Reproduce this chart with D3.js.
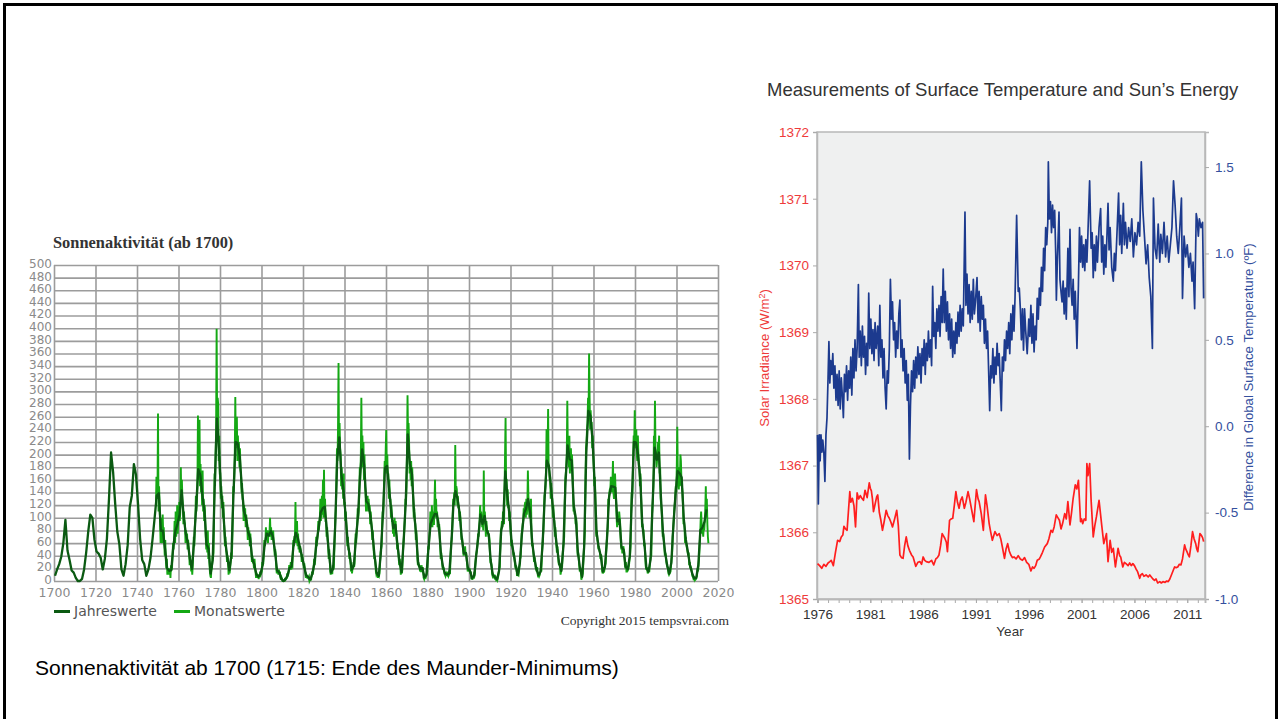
<!DOCTYPE html>
<html>
<head>
<meta charset="utf-8">
<script src="https://cdn.jsdelivr.net/npm/d3@7"></script>
<style>
  body { margin: 0; background: #fff; }
</style>
</head>
<body>
<svg id="chart" width="1280" height="719"></svg>
<script>
//============ data: Sonnenaktivitaet ============//
var jahrStart = 1700;
// yearly sunspot numbers 1700..2014
var jahreswerte = [
  8.3, 18.3, 26.7, 38.3, 60.0, 96.7, 48.3, 33.3, 16.7, 13.3,
  5.0, 0.0, 0.0, 3.3, 18.3, 45.0, 78.3, 105.0, 100.0, 65.0,
  46.7, 43.3, 36.7, 18.3, 35.0, 66.7, 130.0, 203.3, 171.7, 121.7,
  78.3, 58.3, 18.3, 8.3, 26.7, 56.7, 116.7, 135.0, 185.0, 168.3,
  121.7, 66.7, 33.3, 26.7, 8.3, 18.3, 36.7, 66.7, 100.0, 134.8,
  139.0, 79.5, 79.7, 51.2, 20.3, 16.0, 17.0, 54.0, 79.3, 90.0,
  104.8, 143.2, 102.0, 75.2, 60.7, 34.8, 19.0, 63.0, 116.3, 176.8,
  168.0, 136.0, 110.8, 58.0, 51.0, 11.7, 33.0, 154.2, 257.3, 209.8,
  141.3, 113.5, 64.2, 38.0, 17.0, 40.2, 138.2, 220.0, 218.2, 196.8,
  149.8, 111.0, 100.0, 78.2, 68.3, 35.5, 26.7, 10.7, 6.8, 11.3,
  24.2, 56.7, 75.0, 71.8, 79.2, 70.3, 46.8, 16.8, 13.5, 4.2,
  0.0, 2.3, 8.3, 20.3, 23.2, 59.0, 76.3, 68.3, 52.9, 38.5,
  24.2, 9.2, 6.3, 2.2, 11.4, 28.2, 59.9, 83.0, 108.5, 115.2,
  117.4, 80.8, 44.3, 13.4, 19.5, 85.8, 192.7, 227.3, 168.7, 143.0,
  105.5, 63.3, 40.3, 18.1, 25.1, 65.8, 102.7, 166.3, 208.3, 182.5,
  126.3, 122.0, 102.7, 74.1, 39.0, 12.7, 8.2, 43.4, 104.4, 178.3,
  182.2, 146.6, 112.1, 83.5, 89.2, 57.8, 30.7, 13.9, 62.8, 123.6,
  232.0, 185.3, 169.2, 110.1, 74.5, 28.3, 18.9, 20.7, 5.7, 10.0,
  53.7, 90.5, 99.0, 106.1, 105.8, 86.3, 42.4, 21.8, 11.2, 10.4,
  11.8, 59.5, 121.7, 142.0, 130.0, 106.6, 69.4, 43.8, 44.4, 20.2,
  15.7, 4.6, 8.5, 40.8, 70.1, 105.5, 90.1, 102.8, 80.9, 73.2,
  30.9, 9.5, 6.0, 2.4, 16.1, 79.0, 95.0, 173.6, 134.6, 105.7,
  62.7, 43.5, 23.7, 9.7, 27.9, 74.0, 106.5, 114.7, 129.7, 108.2,
  59.4, 35.1, 18.6, 9.2, 14.6, 60.2, 132.8, 190.6, 182.6, 148.0,
  113.0, 79.2, 50.8, 27.1, 16.1, 55.3, 154.3, 214.7, 193.0, 190.7,
  118.9, 98.3, 45.0, 20.1, 6.6, 54.2, 200.7, 269.3, 261.7, 225.1,
  159.0, 76.4, 53.4, 39.9, 15.0, 22.0, 66.8, 132.9, 150.0, 149.4,
  148.0, 94.4, 97.6, 54.1, 49.2, 22.5, 18.4, 39.3, 131.0, 220.1,
  218.9, 198.9, 162.4, 91.0, 60.5, 20.6, 14.8, 33.9, 123.0, 211.1,
  191.8, 203.3, 133.0, 76.1, 44.9, 25.1, 11.6, 28.9, 88.3, 136.3,
  173.9, 170.4, 163.6, 99.3, 65.3, 45.8, 24.7, 12.6, 4.2, 4.8,
  24.9, 80.8, 84.5, 94.0, 113.3
];

var monatStart = 1749, monatStep = 0.25;
var monatswerte = [
  120,165,130,140, 265,110,150,125, 95,60,100,70, 60,105,75,85, 60,40,65,35,
  20,35,10,15, 10,20,15,18, 5,25,18,20, 40,60,50,70, 95,60,110,70,
  80,120,75,95, 100,125,95,110, 180,120,160,130, 115,90,110,95, 90,60,80,70,
  75,50,65,55, 45,25,40,30, 15,25,10,25, 45,70,55,85, 100,135,110,125,
  150,262,160,200, 255,150,185,140, 160,120,175,110, 130,95,120,100, 70,50,65,45,
  80,35,60,30, 15,8,5,20, 20,40,35,45, 110,170,150,200, 240,399,250,290,
  280,190,230,170, 170,130,150,115, 135,100,125,95, 80,55,70,50, 45,30,40,35,
  10,25,12,20, 30,45,35,55, 100,150,140,165, 200,291,210,240, 260,190,230,200,
  220,180,210,175, 170,140,155,130, 130,95,120,100, 115,85,105,95, 90,65,85,70,
  80,55,75,60, 45,30,40,28, 30,20,35,22, 15,5,12,10, 5,10,3,8,
  8,15,10,12, 15,30,25,28, 45,65,55,62, 85,65,80,70, 60,80,70,78,
  100,70,85,65, 75,65,80,60, 55,40,50,42, 20,12,18,15, 10,18,12,15,
  5,2,6,4, 0,0,0,0, 0,5,2,3, 5,12,8,10, 15,25,20,22,
  30,18,25,20, 45,65,55,70, 70,125,60,85, 95,55,75,50, 60,45,55,50,
  45,30,42,35, 30,20,28,18, 12,5,10,8, 4,8,5,7, 0,2,5,1,
  8,15,10,14, 22,35,25,32, 50,70,55,65, 75,95,80,90, 100,130,95,115,
  135,105,160,100, 176,100,130,95, 95,70,85,65, 55,35,50,38, 15,10,18,12,
  12,25,18,22, 50,80,100,120, 160,210,190,240, 345,200,250,210, 200,150,180,145,
  160,130,170,120, 125,95,110,90, 75,55,70,50, 50,35,45,30, 15,22,12,20,
  20,30,22,28, 55,75,60,80, 90,115,100,110, 140,180,160,200, 290,190,230,180,
  220,160,200,150, 140,110,135,120, 135,110,130,115, 120,90,110,95, 85,65,80,60,
  45,35,40,30, 15,10,12,14, 5,10,8,12, 30,45,50,55, 85,110,100,125,
  160,190,175,210, 239,170,200,160, 170,130,160,125, 130,100,120,95, 95,75,90,70,
  100,80,95,80, 70,50,60,48, 35,25,35,28, 10,15,12,18, 40,60,70,85,
  100,130,120,150, 210,294,230,250, 220,170,190,160, 190,150,180,150, 130,100,115,95,
  90,65,80,60, 35,25,30,22, 25,15,20,14, 25,15,22,18, 5,3,8,6,
  5,8,12,15, 40,55,50,70, 80,110,85,95, 120,85,110,90, 90,125,160,100,
  130,100,110,85, 100,80,90,75, 55,35,45,35, 25,18,22,20, 12,10,8,14,
  8,12,10,12, 8,10,15,14, 40,60,65,75, 100,130,125,140, 120,215,140,150,
  145,120,135,115, 120,95,110,100, 80,65,70,60, 50,40,45,40, 55,40,45,35,
  25,15,22,18, 15,20,12,15, 3,6,2,5, 5,10,8,12, 30,40,45,50,
  60,75,70,80, 95,120,100,110, 100,85,95,80, 175,90,110,95, 70,95,85,75,
  80,70,75,65, 40,28,30,25, 12,8,10,8, 5,4,8,7, 2,3,1,4,
  8,15,20,22, 55,80,85,95, 85,110,95,90, 140,200,258,160, 160,120,145,115,
  120,95,110,95, 75,55,65,55, 50,40,45,38, 28,20,25,22, 8,12,10,9,
  15,25,35,38, 55,75,80,90, 95,115,110,120, 125,100,130,105, 120,175,135,115,
  100,120,110,130, 75,55,60,50, 40,30,38,32, 20,18,15,22, 10,6,12,8,
  10,15,18,15, 40,55,70,80, 110,135,140,150, 170,240,180,200, 272,180,175,160,
  165,130,155,135, 130,100,120,100, 95,70,85,65, 55,45,55,45, 30,25,28,24,
  10,15,20,22, 40,55,60,70, 120,160,170,180, 200,285,210,220, 180,230,170,200,
  210,175,200,180, 140,110,120,105, 110,90,100,90, 55,40,45,38, 25,15,22,18,
  2,5,8,12, 30,50,65,80, 160,210,220,240, 250,290,260,360, 290,240,270,250,
  250,210,230,200, 180,150,165,140, 90,70,80,65, 60,50,55,48, 45,35,42,38,
  18,12,15,14, 15,20,25,28, 45,60,75,85, 130,120,140,145, 145,165,150,140,
  155,190,140,130, 150,170,145,130, 100,85,95,90, 90,110,100,90, 65,50,55,45,
  45,55,50,45, 25,20,30,15, 15,20,18,20, 25,35,40,55, 110,140,130,150,
  200,230,220,270, 230,210,240,200, 190,230,200,180, 180,150,170,145, 110,85,90,80,
  80,55,60,45, 25,18,22,18, 12,15,18,14, 25,35,38,40, 100,115,130,150,
  230,200,285,210, 200,180,190,195, 220,210,230,170, 180,130,120,110, 90,70,75,65,
  55,40,45,40, 30,25,22,20, 12,10,12,13, 15,25,35,40, 70,80,95,110,
  120,130,150,140, 180,244,170,150, 145,180,150,200, 190,160,150,140, 120,90,95,85,
  60,70,60,55, 50,45,40,45, 25,30,20,22, 20,15,8,7, 4,5,2,4,
  2,3,6,8, 20,15,25,35, 55,70,95,110, 90,75,80,70, 85,80,95,115,
  150,100,130,90, 70,60
];

var xTicksL = d3.range(1700, 2021, 20);
var yTicksL = d3.range(0, 501, 20);

//============ data: Surface Temperature and Sun's Energy ============//
var tsiYears = [
  1976.0,1976.2,1976.4,1976.6,1976.8,1977.0,1977.17,1977.3,1977.5,1977.7,1977.9,1978.1,1978.25,1978.4,1978.5,
  1978.65,1978.8,1979.06,1979.15,1979.3,1979.45,1979.6,1979.75,1979.9,1980.05,1980.2,1980.35,1980.5,1980.7,1980.9,
  1981.0,1981.1,1981.2,1981.3,1981.45,1981.6,1981.7,1981.85,1982.0,1982.15,1982.3,1982.5,1982.65,1982.8,1982.95,
  1983.1,1983.3,1983.5,1983.65,1983.8,1983.95,1984.1,1984.25,1984.4,1984.55,1984.7,1984.9,1985.05,1985.3,1985.5,
  1985.7,1985.85,1986.0,1986.15,1986.3,1986.55,1986.8,1987.0,1987.2,1987.35,1987.5,1987.65,1987.8,1988.05,1988.2,
  1988.3,1988.5,1988.65,1988.8,1988.95,1989.1,1989.25,1989.4,1989.55,1989.7,1989.9,1990.05,1990.25,1990.4,1990.6,
  1990.8,1991.05,1991.2,1991.3,1991.5,1991.7,1991.9,1992.05,1992.25,1992.4,1992.55,1992.8,1993.0,1993.2,1993.35,
  1993.5,1993.7,1993.85,1994.0,1994.15,1994.3,1994.45,1994.6,1994.8,1995.0,1995.2,1995.4,1995.6,1995.8,1996.0,
  1996.2,1996.35,1996.5,1996.65,1996.8,1997.0,1997.1,1997.3,1997.5,1997.75,1997.9,1998.1,1998.25,1998.4,1998.6,
  1998.75,1998.9,1999.05,1999.2,1999.4,1999.55,1999.7,1999.9,2000.05,2000.2,2000.4,2000.55,2000.7,2000.9,2001.0,
  2001.1,2001.25,2001.4,2001.5,2001.6,2001.76,2001.9,2002.1,2002.25,2002.4,2002.65,2002.9,2003.1,2003.35,2003.5,
  2003.7,2003.85,2004.0,2004.2,2004.45,2004.6,2004.7,2004.9,2005.05,2005.2,2005.4,2005.55,2005.7,2005.85,2006.0,
  2006.15,2006.3,2006.5,2006.6,2006.75,2006.9,2007.1,2007.3,2007.45,2007.6,2007.75,2007.9,2008.05,2008.2,2008.4,
  2008.55,2008.7,2008.9,2009.05,2009.2,2009.35,2009.5,2009.65,2009.8,2009.95,2010.1,2010.25,2010.4,2010.55,2010.75,
  2010.85,2010.97,2011.1,2011.2,2011.35,2011.5,2011.65,2011.8,2011.9,2012.0,2012.1,2012.2,2012.35,2012.45,2012.55
];
var tsiValues = [
  1365.53,1365.50,1365.46,1365.52,1365.49,1365.54,1365.56,1365.58,1365.50,1365.70,1365.88,1365.86,1365.93,1365.96,1366.09,
  1366.05,1366.03,1366.61,1366.45,1366.51,1366.40,1366.08,1366.59,1366.50,1366.55,1366.51,1366.48,1366.63,1366.52,1366.74,
  1366.66,1366.62,1366.50,1366.31,1366.42,1366.53,1366.56,1366.30,1366.18,1366.03,1366.15,1366.33,1366.25,1366.21,1366.15,
  1366.08,1366.20,1366.33,1366.10,1365.66,1365.62,1365.61,1365.80,1365.93,1365.80,1365.73,1365.66,1365.63,1365.49,1365.55,
  1365.56,1365.52,1365.63,1365.58,1365.56,1365.55,1365.58,1365.51,1365.60,1365.62,1365.66,1365.80,1365.98,1365.91,1365.85,
  1365.71,1366.18,1366.20,1366.21,1366.40,1366.61,1366.45,1366.36,1366.48,1366.53,1366.36,1366.45,1366.61,1366.50,1366.33,
  1366.16,1366.64,1366.50,1366.46,1366.28,1366.03,1366.56,1366.40,1366.13,1366.00,1365.88,1366.01,1365.95,1365.98,1365.90,
  1365.78,1365.61,1365.75,1365.83,1365.72,1365.66,1365.62,1365.63,1365.60,1365.65,1365.60,1365.58,1365.62,1365.55,1365.52,
  1365.42,1365.48,1365.46,1365.50,1365.58,1365.60,1365.63,1365.70,1365.78,1365.83,1365.90,1366.03,1366.00,1366.08,1366.26,
  1366.22,1366.18,1366.05,1366.13,1366.28,1366.20,1366.46,1366.11,1366.30,1366.51,1366.71,1366.65,1366.78,1366.16,1366.20,
  1366.13,1366.20,1366.18,1367.03,1366.85,1367.03,1366.48,1365.93,1366.10,1366.23,1366.48,1366.11,1365.83,1365.98,1365.56,
  1365.88,1365.70,1365.76,1365.48,1365.76,1365.65,1365.63,1365.48,1365.55,1365.53,1365.50,1365.54,1365.50,1365.53,1365.50,
  1365.45,1365.41,1365.31,1365.36,1365.38,1365.34,1365.36,1365.33,1365.36,1365.33,1365.30,1365.28,1365.30,1365.24,1365.26,
  1365.24,1365.26,1365.25,1365.27,1365.26,1365.30,1365.36,1365.42,1365.48,1365.47,1365.48,1365.52,1365.51,1365.60,1365.81,
  1365.75,1365.71,1365.66,1365.63,1365.80,1366.01,1365.90,1365.83,1365.75,1365.71,1365.85,1365.98,1365.95,1365.92,1365.86
];

var tempYears = [
  1976.0,1976.08,1976.17,1976.25,1976.33,1976.42,1976.5,1976.6,1976.7,1976.8,1976.9,1977.0,1977.08,1977.17,1977.25,
  1977.35,1977.45,1977.55,1977.65,1977.75,1977.85,1977.95,1978.05,1978.15,1978.25,1978.35,1978.45,1978.55,1978.65,1978.75,
  1978.85,1978.95,1979.05,1979.15,1979.25,1979.35,1979.45,1979.55,1979.65,1979.75,1979.87,1979.95,1980.05,1980.15,1980.25,
  1980.35,1980.45,1980.55,1980.65,1980.75,1980.85,1980.95,1981.05,1981.15,1981.25,1981.35,1981.45,1981.55,1981.7,1981.8,
  1981.9,1982.0,1982.1,1982.2,1982.3,1982.4,1982.5,1982.6,1982.7,1982.8,1982.9,1983.0,1983.1,1983.2,1983.3,
  1983.4,1983.5,1983.6,1983.7,1983.8,1983.9,1984.0,1984.1,1984.2,1984.3,1984.4,1984.5,1984.6,1984.7,1984.8,
  1984.9,1985.0,1985.1,1985.2,1985.3,1985.4,1985.5,1985.6,1985.7,1985.8,1985.9,1986.0,1986.1,1986.2,1986.3,
  1986.4,1986.5,1986.6,1986.7,1986.8,1986.9,1987.0,1987.1,1987.2,1987.3,1987.4,1987.5,1987.6,1987.7,1987.8,
  1987.9,1988.0,1988.1,1988.2,1988.3,1988.4,1988.5,1988.6,1988.7,1988.8,1988.9,1989.0,1989.1,1989.2,1989.3,
  1989.4,1989.5,1989.6,1989.7,1989.8,1989.96,1990.05,1990.15,1990.25,1990.35,1990.45,1990.55,1990.65,1990.75,1990.85,
  1990.95,1991.1,1991.2,1991.3,1991.4,1991.5,1991.6,1991.7,1991.8,1991.9,1992.0,1992.1,1992.2,1992.3,1992.4,
  1992.5,1992.6,1992.7,1992.8,1992.9,1993.0,1993.1,1993.2,1993.3,1993.4,1993.5,1993.6,1993.7,1993.8,1993.9,
  1994.0,1994.1,1994.2,1994.3,1994.4,1994.5,1994.6,1994.7,1994.85,1995.0,1995.1,1995.2,1995.3,1995.4,1995.5,
  1995.6,1995.7,1995.85,1996.0,1996.1,1996.2,1996.3,1996.4,1996.5,1996.6,1996.7,1996.8,1996.9,1997.0,1997.1,
  1997.2,1997.3,1997.4,1997.5,1997.6,1997.7,1997.8,1997.85,1997.95,1998.05,1998.15,1998.25,1998.35,1998.45,1998.55,
  1998.61,1998.7,1998.86,1998.95,1999.05,1999.15,1999.25,1999.35,1999.45,1999.55,1999.7,1999.8,1999.9,2000.0,2000.1,
  2000.2,2000.3,2000.4,2000.56,2000.7,2000.8,2000.9,2001.0,2001.1,2001.2,2001.3,2001.4,2001.5,2001.6,2001.76,
  2001.9,2002.0,2002.1,2002.2,2002.3,2002.4,2002.5,2002.65,2002.8,2002.9,2003.0,2003.1,2003.2,2003.3,2003.5,
  2003.6,2003.7,2003.85,2004.0,2004.1,2004.2,2004.35,2004.5,2004.6,2004.7,2004.8,2004.95,2005.05,2005.15,2005.3,
  2005.45,2005.6,2005.75,2005.9,2006.05,2006.2,2006.35,2006.5,2006.65,2006.8,2006.95,2007.1,2007.25,2007.4,2007.55,
  2007.7,2007.8,2007.95,2008.1,2008.25,2008.4,2008.5,2008.65,2008.8,2008.95,2009.1,2009.25,2009.4,2009.55,2009.7,
  2009.85,2010.0,2010.15,2010.3,2010.45,2010.55,2010.7,2010.85,2011.0,2011.15,2011.3,2011.45,2011.55,2011.7,2011.85,
  2011.95,2012.05,2012.15,2012.3,2012.45,2012.55
];
var tempValues = [
  -0.05,-0.45,-0.05,-0.20,-0.05,-0.15,-0.08,-0.15,-0.32,-0.05,0.05,0.28,0.49,0.25,0.38,
  0.30,0.42,0.22,0.35,0.15,0.30,0.12,0.32,0.10,0.28,0.18,0.05,0.30,0.20,0.35,
  0.15,0.32,0.22,0.40,0.18,0.45,0.28,0.50,0.32,0.45,0.82,0.40,0.55,0.35,0.58,
  0.40,0.52,0.30,0.48,0.35,0.77,0.45,0.62,0.42,0.56,0.38,0.60,0.45,0.58,0.35,
  0.70,0.40,0.50,0.28,0.45,0.22,0.10,0.32,0.25,0.45,0.85,0.62,0.72,0.50,0.60,
  0.40,0.55,0.45,0.65,0.73,0.40,0.50,0.32,0.45,0.25,0.38,0.15,0.30,-0.19,0.12,
  0.32,0.20,0.38,0.22,0.40,0.28,0.46,0.30,0.42,0.25,0.45,0.35,0.50,0.30,0.48,
  0.38,0.55,0.40,0.50,0.35,0.81,0.52,0.60,0.45,0.68,0.55,0.70,0.52,0.75,0.60,
  0.91,0.60,0.78,0.55,0.72,0.50,0.65,0.45,0.62,0.40,0.55,0.42,0.60,0.48,0.66,
  0.52,0.70,0.55,0.68,0.58,1.24,0.70,0.88,0.65,0.82,0.60,0.78,0.62,0.85,0.65,
  0.72,0.86,0.60,0.78,0.55,0.75,0.62,0.70,0.48,0.62,0.45,0.55,0.32,0.09,0.35,
  0.28,0.45,0.25,0.40,0.30,0.48,0.35,0.42,0.25,0.09,0.40,0.32,0.50,0.38,0.55,
  0.45,0.60,0.42,0.65,0.50,0.70,0.55,0.75,1.22,0.78,0.80,0.68,0.50,0.68,0.44,
  0.68,0.56,0.42,0.62,0.52,0.70,0.48,0.65,0.43,0.58,0.50,0.74,0.62,0.80,0.70,
  0.92,0.78,1.03,0.90,1.15,1.05,1.18,1.53,1.20,1.30,1.12,1.28,1.15,1.25,1.00,
  0.73,0.95,1.24,0.85,0.78,0.72,0.84,0.65,0.80,0.62,1.03,0.75,1.14,0.80,0.70,
  0.85,0.62,0.78,0.45,0.82,1.15,0.95,1.10,0.92,1.05,0.90,1.08,0.95,1.12,1.42,
  1.03,1.12,0.86,1.05,0.90,1.10,0.95,1.15,1.26,0.95,1.10,0.88,1.05,0.92,1.29,
  1.02,1.15,0.92,0.84,1.00,0.90,1.12,1.35,1.05,1.22,1.00,1.29,1.05,1.18,1.03,
  1.15,1.07,1.20,0.98,1.12,1.05,1.18,1.10,1.53,1.25,1.10,0.94,1.05,0.86,0.75,
  0.45,1.32,1.03,0.97,1.17,0.95,1.11,1.00,1.18,0.98,1.10,0.95,1.05,1.15,1.42,
  1.28,1.10,1.00,1.15,1.32,0.74,1.10,0.98,1.05,0.92,1.00,0.84,0.95,0.68,1.23,
  1.19,1.10,1.20,1.15,1.18,0.74
];

var yearTicks = [1976, 1981, 1986, 1991, 1996, 2001, 2006, 2011];
var tsiTicks = [1365, 1366, 1367, 1368, 1369, 1370, 1371, 1372];
var tempTicks = [-1.0, -0.5, 0.0, 0.5, 1.0, 1.5];

//============ drawing ============//
var svg = d3.select('#chart');

// slide frame
svg.append('rect')
  .attr('x', 4.5).attr('y', 4.5)
  .attr('width', 1272).attr('height', 740)
  .attr('fill', 'none')
  .attr('stroke', '#000')
  .attr('stroke-width', 3);

//----- left chart -----//
var xL = d3.scaleLinear().domain([1700, 2020]).range([54, 718]);
var yL = d3.scaleLinear().domain([0, 500]).range([581, 265]);
var gL = svg.append('g');

gL.append('text')
  .attr('x', 53).attr('y', 248)
  .style('font-family', '"Liberation Serif", "Times New Roman", serif')
  .style('font-weight', 'bold')
  .style('font-size', '16.4px')
  .style('fill', '#333')
  .text('Sonnenaktivität (ab 1700)');

var gridX = gL.append('g')
  .attr('transform', 'translate(0,581)')
  .call(d3.axisBottom(xL).tickValues(xTicksL).tickFormat(d3.format('d'))
    .tickSize(-316).tickPadding(7));
var gridY = gL.append('g')
  .attr('transform', 'translate(54,0)')
  .call(d3.axisLeft(yL).tickValues(yTicksL).tickSize(-664).tickPadding(2));

[gridX, gridY].forEach(function(g) {
  g.select('.domain').remove();
  g.selectAll('line').attr('stroke', '#9c9c9c').attr('stroke-width', 1.6);
  g.selectAll('text')
    .style('font-family', '"DejaVu Sans", Verdana, sans-serif')
    .style('font-size', '12.5px')
    .style('fill', '#8a8a8a');
});
gridY.selectAll('text').style('font-size', '12px').attr('dy', '0.2em');

// monthly (light green) first, yearly (dark green) on top
var monatLine = d3.line()
  .x(function(d, i) { return xL(monatStart + (i + 0.5) * monatStep); })
  .y(function(d) { return yL(d); });
gL.append('path')
  .datum(monatswerte)
  .attr('d', monatLine)
  .attr('fill', 'none')
  .attr('stroke', '#14a814')
  .attr('stroke-width', 1.9);

var jahrLine = d3.line()
  .x(function(d, i) { return xL(jahrStart + i + 0.5); })
  .y(function(d) { return yL(d); });
gL.append('path')
  .datum(jahreswerte)
  .attr('d', jahrLine)
  .attr('fill', 'none')
  .attr('stroke', '#0b5a12')
  .attr('stroke-width', 2.3)
  .attr('stroke-linejoin', 'round');

// legend
var legend = [
  {name: 'Jahreswerte', color: '#0b5a12', x: 54},
  {name: 'Monatswerte', color: '#14a814', x: 174}
];
var lg = gL.selectAll('.leg').data(legend).enter().append('g').attr('class', 'leg');
lg.append('line')
  .attr('x1', function(d) { return d.x; })
  .attr('x2', function(d) { return d.x + 16; })
  .attr('y1', 611.5).attr('y2', 611.5)
  .attr('stroke', function(d) { return d.color; })
  .attr('stroke-width', 3);
lg.append('text')
  .attr('x', function(d) { return d.x + 20; })
  .attr('y', 616)
  .style('font-family', '"DejaVu Sans", Verdana, sans-serif')
  .style('font-size', '14px')
  .style('fill', '#555')
  .text(function(d) { return d.name; });

gL.append('text')
  .attr('x', 729).attr('y', 625)
  .attr('text-anchor', 'end')
  .style('font-family', '"Liberation Serif", "Times New Roman", serif')
  .style('font-size', '13.5px')
  .style('fill', '#333')
  .text('Copyright 2015 tempsvrai.com');

// caption
svg.append('text')
  .attr('x', 35).attr('y', 675)
  .style('font-family', '"Liberation Sans", Arial, sans-serif')
  .style('font-size', '21px')
  .style('fill', '#000')
  .text('Sonnenaktivität ab 1700 (1715: Ende des Maunder-Minimums)');

//----- right chart -----//
var red = '#ee3a3a', blue = '#34509e';
var xR = d3.scaleLinear().domain([1976, 2012.68]).range([817.5, 1205]);
var yTsi = d3.scaleLinear().domain([1365, 1372]).range([599, 132]);
var yTemp = d3.scaleLinear().domain([-1, 1.703]).range([599, 132]);
var gR = svg.append('g');

gR.append('text')
  .attr('x', 767).attr('y', 96)
  .style('font-family', '"Liberation Sans", Arial, sans-serif')
  .style('font-size', '18.5px')
  .style('fill', '#333')
  .text('Measurements of Surface Temperature and Sun\u2019s Energy');

gR.append('rect')
  .attr('x', 817).attr('y', 132)
  .attr('width', 388).attr('height', 467)
  .attr('fill', '#eff0f0')
  .attr('stroke', '#b8b8b8')
  .attr('stroke-width', 1.5);

var axL = gR.append('g')
  .attr('transform', 'translate(817,0)')
  .call(d3.axisLeft(yTsi).tickValues(tsiTicks).tickFormat(d3.format('d'))
    .tickSize(4).tickPadding(4));
axL.selectAll('text').style('fill', red);

var axR = gR.append('g')
  .attr('transform', 'translate(1205,0)')
  .call(d3.axisRight(yTemp).tickValues(tempTicks)
    .tickFormat(function(d) { return d.toFixed(1); })
    .tickSize(4).tickPadding(6));
axR.selectAll('text').style('fill', blue);

var axB = gR.append('g')
  .attr('transform', 'translate(0,599)')
  .call(d3.axisBottom(xR).tickValues(d3.range(1976, 2013)).tickFormat('')
    .tickSize(4));
var axB2 = gR.append('g')
  .attr('transform', 'translate(0,599)')
  .call(d3.axisBottom(xR).tickValues(yearTicks).tickFormat(d3.format('d'))
    .tickSize(4).tickPadding(6));
axB2.selectAll('text').style('fill', '#333');

[axL, axR, axB, axB2].forEach(function(g) {
  g.select('.domain').attr('stroke', '#b8b8b8').attr('stroke-width', 1.5);
  g.selectAll('line').attr('stroke', '#aaa');
  g.selectAll('text')
    .style('font-family', '"Liberation Sans", Arial, sans-serif')
    .style('font-size', '13.5px');
});

gR.append('text')
  .attr('x', 1010).attr('y', 636)
  .attr('text-anchor', 'middle')
  .style('font-family', '"Liberation Sans", Arial, sans-serif')
  .style('font-size', '13.5px')
  .style('fill', '#333')
  .text('Year');

gR.append('text')
  .attr('transform', 'translate(769,358) rotate(-90)')
  .attr('text-anchor', 'middle')
  .style('font-family', '"Liberation Sans", Arial, sans-serif')
  .style('font-size', '13.2px')
  .style('fill', red)
  .html('Solar Irradiance (W/m<tspan dy="-4" font-size="9px">2</tspan><tspan dy="4">)</tspan>');

gR.append('text')
  .attr('transform', 'translate(1253,377) rotate(-90)')
  .attr('text-anchor', 'middle')
  .style('font-family', '"Liberation Sans", Arial, sans-serif')
  .style('font-size', '13.2px')
  .style('fill', blue)
  .text('Difference in Global Surface Temperature (\u00baF)');

var tempLine = d3.line()
  .x(function(d, i) { return xR(tempYears[i]); })
  .y(function(d) { return yTemp(d); });
gR.append('path')
  .datum(tempValues)
  .attr('d', tempLine)
  .attr('fill', 'none')
  .attr('stroke', '#1c3a8e')
  .attr('stroke-width', 1.7)
  .attr('stroke-linejoin', 'round');

var tsiLine = d3.line()
  .x(function(d, i) { return xR(tsiYears[i]); })
  .y(function(d) { return yTsi(d); });
gR.append('path')
  .datum(tsiValues)
  .attr('d', tsiLine)
  .attr('fill', 'none')
  .attr('stroke', '#ff1e1e')
  .attr('stroke-width', 1.7)
  .attr('stroke-linejoin', 'round');
</script>
</body>
</html>
